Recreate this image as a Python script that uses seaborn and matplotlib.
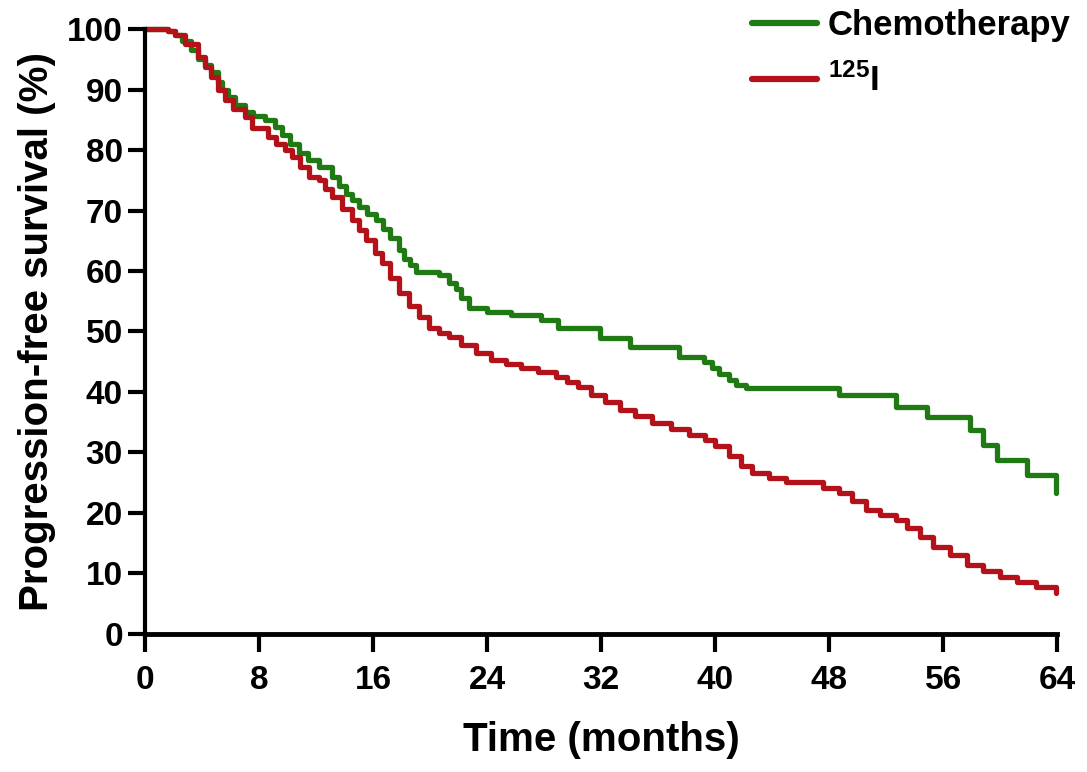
import pandas as pd
import matplotlib
matplotlib.use("Agg")
import matplotlib.pyplot as plt
import seaborn as sns

# Kaplan-Meier style curves
chemo_time = [0, 1.6, 2.1, 2.6, 3.2, 3.7, 4.2, 4.6, 5.1, 5.4, 5.8, 6.3, 7.0, 7.6, 8.4,
              9.1, 9.6, 10.2, 10.8, 11.4, 12.2, 13.1, 13.6, 14.1, 14.5, 15.0, 15.6,
              16.2, 16.7, 17.2, 17.8, 18.2, 18.6, 19.0, 20.6, 21.3, 21.8, 22.2, 22.7,
              24.0, 25.7, 27.8, 29.0, 31.9, 34.0, 37.5, 39.2, 39.8, 40.3, 41.0, 41.5,
              42.2, 48.7, 52.7, 54.9, 57.9, 58.8, 59.8, 61.9, 63.9]
chemo_surv = [100, 99.7, 99, 98, 96.5, 95, 94, 92.9, 91.3, 90, 88.8, 87.5, 86.3, 85.6, 85,
              83.8, 82.5, 81, 79.5, 78.3, 77.2, 75.5, 74, 72.8, 71.7, 70.5, 69.4,
              68.4, 67, 65.5, 63.5, 62, 61, 59.8, 59.3, 58, 57, 55.5, 53.9,
              53.2, 52.7, 51.9, 50.6, 48.9, 47.5, 45.8, 45, 44, 43, 42, 41.2,
              40.7, 39.5, 37.5, 35.8, 33.7, 31.2, 28.8, 26.3, 23.3]

iodine_time = [0, 1.6, 2.1, 2.8, 3.7, 4.2, 4.6, 5.1, 5.6, 6.2, 7.0, 7.5, 8.6, 9.2, 9.8,
               10.3, 10.9, 11.5, 12.2, 12.6, 13.1, 13.8, 14.5, 15.0, 15.5, 16.1, 16.6,
               17.2, 17.8, 18.5, 19.2, 19.9, 20.6, 21.3, 22.2, 23.2, 24.3, 25.3, 26.4,
               27.6, 28.8, 29.6, 30.4, 31.3, 32.3, 33.3, 34.4, 35.6, 36.9, 38.2, 39.3,
               40.0, 41.0, 41.8, 42.6, 43.8, 45.0, 47.6, 48.7, 49.6, 50.6, 51.6, 52.7,
               53.5, 54.4, 55.3, 56.5, 57.7, 58.8, 60.0, 61.2, 62.5, 63.9]
iodine_surv = [100, 99.7, 99, 97.5, 95.4, 93.8, 92, 90, 88.3, 86.8, 85.5, 83.6, 82.2, 81, 80,
               78.8, 77.2, 75.5, 75, 73.6, 72.2, 70.2, 68.4, 66.8, 65.1, 63, 61.3,
               58.8, 56.4, 54.2, 52.4, 50.6, 49.8, 49.1, 47.8, 46.5, 45.3, 44.7, 44,
               43.3, 42.5, 41.7, 40.8, 39.5, 38.3, 37, 36, 34.9, 33.9, 32.9, 32.1,
               31, 29.4, 27.8, 26.6, 25.8, 25.1, 24.2, 23.3, 22, 20.5, 19.7, 18.8,
               17.5, 16, 14.4, 13, 11.4, 10.4, 9.4, 8.6, 7.7, 6.8]

x_ticks = [0, 8, 16, 24, 32, 40, 48, 56, 64]
y_ticks = [0, 10, 20, 30, 40, 50, 60, 70, 80, 90, 100]

green = "#1f7a14"
red = "#b3121a"

sns.set_style("ticks")
plt.rcParams['font.family'] = ['Liberation Sans', 'DejaVu Sans']
plt.rcParams['font.weight'] = 'bold'
plt.rcParams['text.color'] = 'black'
plt.rcParams['axes.labelcolor'] = 'black'
plt.rcParams['xtick.color'] = 'black'
plt.rcParams['ytick.color'] = 'black'
plt.rcParams['axes.edgecolor'] = 'black'
plt.rcParams['mathtext.fontset'] = 'custom'
plt.rcParams['mathtext.bf'] = 'Liberation Sans:bold'
plt.rcParams['mathtext.rm'] = 'Liberation Sans:bold'

df_chemo = pd.DataFrame({'time': chemo_time, 'surv': chemo_surv})
df_iod = pd.DataFrame({'time': iodine_time, 'surv': iodine_surv})

fig = plt.figure(figsize=(10.87, 7.72), dpi=100)
ax = fig.add_axes([0.1335, 0.1788, 0.839, 0.7836])

sns.lineplot(data=df_chemo, x='time', y='surv', ax=ax, color=green, lw=3.8,
             drawstyle='steps-post', estimator=None, label='Chemotherapy', clip_on=False)
sns.lineplot(data=df_iod, x='time', y='surv', ax=ax, color=red, lw=3.8,
             drawstyle='steps-post', estimator=None, label=r'$\mathbf{^{125}I}$', clip_on=False)

ax.set_xlim(0, 64)
ax.set_ylim(0, 100)
ax.set_xticks(x_ticks)
ax.set_yticks(y_ticks)
ax.tick_params(axis='both', width=3, length=12, labelsize=24, direction='out', color='black')
ax.tick_params(axis='x', length=13, pad=9)
ax.tick_params(axis='y', pad=4)
for lab in ax.get_xticklabels() + ax.get_yticklabels():
    lab.set_fontweight('bold')

ax.spines['top'].set_visible(False)
ax.spines['right'].set_visible(False)
ax.spines['left'].set_linewidth(3)
ax.spines['bottom'].set_linewidth(3.5)

ax.set_xlabel('Time (months)', fontsize=29, fontweight='bold', labelpad=18)
ax.set_ylabel('Progression-free survival (%)', fontsize=29, fontweight='bold', labelpad=8)

leg = ax.legend(loc='upper left', bbox_to_anchor=(0.692, 0.988), bbox_transform=fig.transFigure,
                frameon=False, fontsize=25, handlelength=1.87, handletextpad=0.3,
                labelspacing=0.62, borderpad=0, borderaxespad=0)
for line in leg.get_lines():
    line.set_linewidth(4.5)
for t in leg.get_texts():
    t.set_fontweight('bold')

fig.savefig('out.png', dpi=100)
